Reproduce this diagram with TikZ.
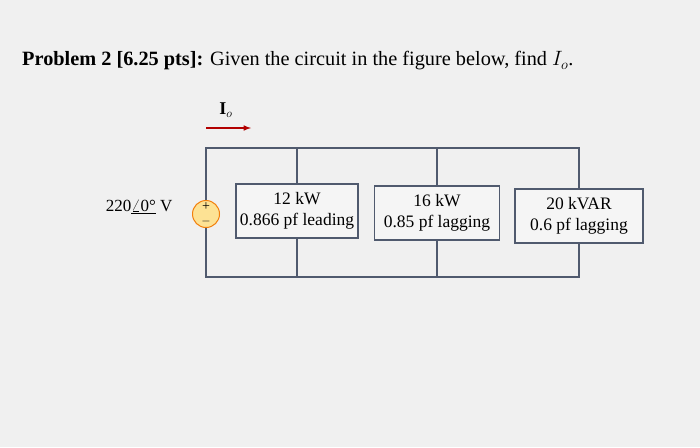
\documentclass[tikz,border=0pt]{standalone}
\usepackage{fontspec}
\setmainfont{Liberation Serif}
\definecolor{wirec}{RGB}{80,90,110}
\begin{document}
\begin{tikzpicture}[x=1pt,y=-1pt,
  wire/.style={draw=wirec, line width=1.2pt},
  load/.style={wire, fill=white!92!gray, minimum height=54pt, align=center, inner sep=1pt, font=\fontsize{17.5}{21}\selectfont}]
\fill[gray!12] (0,0) rectangle (700,447);
\useasboundingbox (0,0) rectangle (700,447);
\node[anchor=west, font=\fontsize{20.3}{24}\selectfont, inner sep=0pt] (title) at (22,61) {\textbf{Problem 2 [6.25 pts]:} Given the circuit in the figure below, find $I_o$.};
\coordinate (tl) at (206,148);
\coordinate (bl) at (206,277);
\node[load, minimum width=122pt] (b1) at (297,211) {12 kW\\0.866 pf leading};
\node[load, minimum width=125pt] (b2) at (437,213) {16 kW\\0.85 pf lagging};
\node[load, minimum width=128pt] (b3) at (579,216) {20 kVAR\\0.6 pf lagging};
\node[circle, draw=orange!80!brown, fill=yellow!50!orange!40, line width=1pt, minimum size=27pt, inner sep=0pt] (src) at (206,214) {};
\node[font=\fontsize{14}{14}\selectfont, inner sep=0pt] (pl) at (206,207) {+};
\node[font=\fontsize{13}{13}\selectfont, inner sep=0pt] (mi) at (206,221) {$-$};
\draw[wire] (src.north) -- (tl) -- (tl -| b3.north) -- (b3.north);
\draw[wire] (src.south) -- (bl) -- (bl -| b3.south) -- (b3.south);
\draw[wire] (tl -| b1.north) -- (b1.north);
\draw[wire] (tl -| b2.north) -- (b2.north);
\draw[wire] (bl -| b1.south) -- (b1.south);
\draw[wire] (bl -| b2.south) -- (b2.south);
\node[anchor=east, font=\fontsize{17}{20}\selectfont] (vs) at (176,207) {220\underline{\raisebox{0.5pt}{$\angle$}0°} V};
\coordinate (a1) at (206,128);
\coordinate (a2) at (251,128);
\draw[red!70!black, line width=1.5pt, -{latex}] (a1) -- (a2);
\node[font=\fontsize{18}{20}\selectfont] (io) at (226,110) {$\mathbf{I}_o$};
\end{tikzpicture}
\end{document}
